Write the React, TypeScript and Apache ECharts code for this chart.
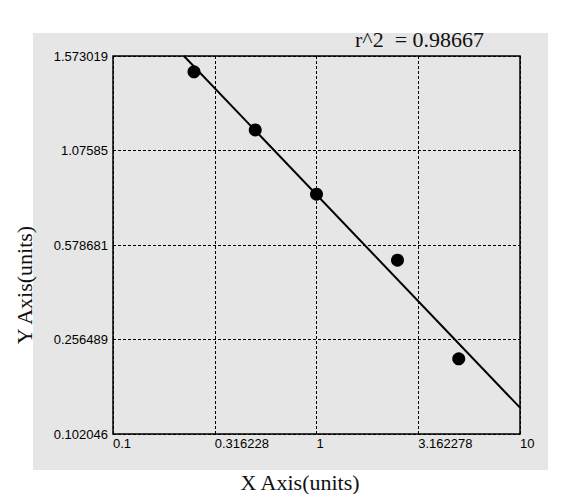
import React, { useEffect, useRef } from "react";
import * as echarts from "echarts";

// Data
const xValues = [0.25, 0.5, 1, 2.5, 5];
const yValues = [1.49, 1.184, 0.846, 0.527, 0.225];
const yTickLabels = ["0.102046", "0.256489", "0.578681", "1.07585", "1.573019"];
const yTickValues = [0.102046, 0.256489, 0.578681, 1.07585, 1.573019];
const xTickLabels = ["0.1", "0.316228", "1", "3.162278", "10"];
const r2Text = "r^2  = 0.98667";

// Map a real y value onto the chart's (evenly spaced tick) axis
function yToAxis(v: number): number {
  for (let i = 0; i < yTickValues.length - 1; i++) {
    const a = yTickValues[i];
    const b = yTickValues[i + 1];
    if (v <= b || i === yTickValues.length - 2) {
      return i + (v - a) / (b - a);
    }
  }
  return 0;
}

export default function App() {
  const ref = useRef<HTMLDivElement>(null);
  useEffect(() => {
    if (!ref.current) return;
    const chart = echarts.init(ref.current, undefined, { renderer: "svg" });

    const pts = xValues.map((x, i) => [Math.log10(x), yToAxis(yValues[i])]);
    // least squares fit in displayed space
    const n = pts.length;
    const mx = pts.reduce((s, p) => s + p[0], 0) / n;
    const my = pts.reduce((s, p) => s + p[1], 0) / n;
    let sxy = 0, sxx = 0;
    pts.forEach((p) => {
      sxy += (p[0] - mx) * (p[1] - my);
      sxx += (p[0] - mx) * (p[0] - mx);
    });
    const m = sxy / sxx;
    const b = my - m * mx;
    // clip to the plot box x in [-1,1], y in [0,4]
    let x0 = -1, x1 = 1;
    const xAtTop = (4 - b) / m;
    const xAtBottom = (0 - b) / m;
    x0 = Math.max(x0, Math.min(xAtTop, xAtBottom));
    x1 = Math.min(x1, Math.max(xAtTop, xAtBottom));
    const fitLine = [
      [x0, m * x0 + b],
      [x1, m * x1 + b],
    ];

    const gridLine = { show: true, lineStyle: { color: "#000", type: [3, 2] as any, width: 1 } };

    chart.setOption({
      animation: false,
      backgroundColor: "#ffffff",
      graphic: [
        {
          type: "rect",
          z: -10,
          silent: true,
          shape: { x: 33, y: 33, width: 515, height: 437 },
          style: { fill: "#e6e6e6" },
        },
        {
          type: "text",
          left: 355,
          top: 28,
          style: {
            text: r2Text,
            font: "22px 'Liberation Serif', serif",
            fill: "#111",
          },
        },
        {
          type: "text",
          x: 300,
          y: 482,
          style: {
            text: "X Axis(units)",
            font: "22px 'Liberation Serif', serif",
            fill: "#111",
            align: "center",
            verticalAlign: "middle",
          },
        },
        {
          type: "text",
          x: 24,
          y: 285,
          rotation: Math.PI / 2,
          style: {
            text: "Y Axis(units)",
            font: "22px 'Liberation Serif', serif",
            fill: "#111",
            align: "center",
            verticalAlign: "middle",
          },
        },
      ],
      grid: {
        left: 113,
        right: 55,
        top: 56,
        bottom: 60,
        show: true,
        borderColor: "#000",
        borderWidth: 1.5,
        backgroundColor: "transparent",
      },
      xAxis: {
        type: "value",
        min: -1,
        max: 1,
        interval: 0.5,
        axisLine: { show: false },
        axisTick: { show: false },
        splitLine: gridLine,
        axisLabel: {
          align: "left",
          margin: 3,
          fontFamily: "'Liberation Sans', Arial, sans-serif",
          fontSize: 13,
          color: "#000",
          formatter: (v: number) => xTickLabels[Math.round((v + 1) * 2)] ?? "",
        },
      },
      yAxis: {
        type: "value",
        min: 0,
        max: 4,
        interval: 1,
        axisLine: { show: false },
        axisTick: { show: false },
        splitLine: gridLine,
        axisLabel: {
          margin: 5,
          fontFamily: "'Liberation Sans', Arial, sans-serif",
          fontSize: 13,
          color: "#000",
          formatter: (v: number) => yTickLabels[Math.round(v)] ?? "",
        },
      },
      series: [
        {
          type: "line",
          data: fitLine,
          symbol: "none",
          lineStyle: { color: "#000", width: 2 },
          z: 2,
        },
        {
          type: "scatter",
          data: pts,
          symbol: "circle",
          symbolSize: 13,
          itemStyle: { color: "#000", opacity: 1 },
          z: 3,
        },
      ],
    });
    return () => chart.dispose();
  }, []);
  return (
    <div
      ref={ref}
      style={{ position: "fixed", left: 0, top: 0, width: 575, height: 494 }}
    />
  );
}
